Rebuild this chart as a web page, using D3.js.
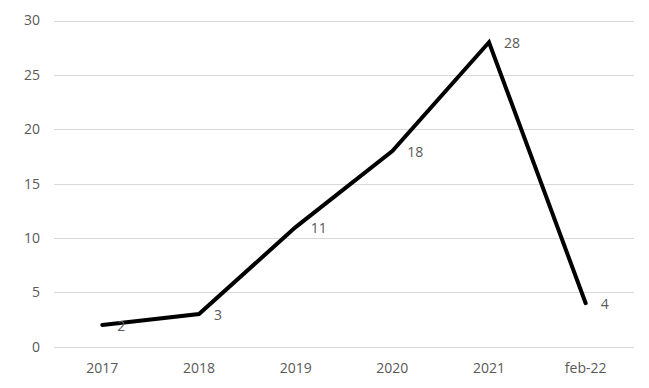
<!DOCTYPE html>
<html>
<meta charset="utf-8">
<style>

body {
  margin: 0;
  background: #fff;
}

text {
  font-family: "Open Sans", sans-serif;
  font-size: 14px;
  fill: #595959;
}

.grid line {
  stroke: #d9d9d9;
  stroke-width: 1px;
  shape-rendering: crispEdges;
}

.grid path {
  display: none;
}

.line {
  fill: none;
  stroke: #000;
  stroke-width: 4px;
  stroke-linecap: round;
}

</style>
<body>
<script src="https://d3js.org/d3.v7.min.js"></script>
<script>

var categories = ["2017", "2018", "2019", "2020", "2021", "feb-22"];
var values = [2, 3, 11, 18, 28, 4];
var yTicks = [0, 5, 10, 15, 20, 25, 30];

var width = 649,
    height = 388,
    margin = {top: 20.5, right: 15, bottom: 41.3, left: 54};

var svg = d3.select("body").append("svg")
    .attr("width", width)
    .attr("height", height);

var x = d3.scaleBand()
    .domain(categories)
    .range([margin.left, width - margin.right]);

var y = d3.scaleLinear()
    .domain([0, 30])
    .range([height - margin.bottom, margin.top]);

// horizontal gridlines
svg.append("g")
    .attr("class", "grid")
    .attr("transform", "translate(" + margin.left + ",0)")
    .call(d3.axisLeft(y)
        .tickValues(yTicks)
        .tickSize(-(width - margin.left - margin.right))
        .tickFormat(""));

// y tick labels
svg.append("g")
  .selectAll("text")
  .data(yTicks)
  .enter().append("text")
    .attr("x", 40)
    .attr("y", function(d) { return y(d); })
    .attr("dy", "0.35em")
    .attr("text-anchor", "end")
    .text(function(d) { return d; });

// x tick labels
svg.append("g")
  .selectAll("text")
  .data(categories)
  .enter().append("text")
    .attr("x", function(d) { return x(d) + x.bandwidth() / 2; })
    .attr("y", 373)
    .attr("text-anchor", "middle")
    .text(function(d) { return d; });

var line = d3.line()
    .x(function(d, i) { return x(categories[i]) + x.bandwidth() / 2; })
    .y(function(d) { return y(d); });

svg.append("path")
    .datum(values)
    .attr("class", "line")
    .attr("d", line);

// data labels
svg.append("g")
  .selectAll("text")
  .data(values)
  .enter().append("text")
    .attr("x", function(d, i) { return x(categories[i]) + x.bandwidth() / 2 + 15; })
    .attr("y", function(d) { return y(d) + 1; })
    .attr("dy", "0.35em")
    .text(function(d) { return d; });

</script>
</body>
</html>
